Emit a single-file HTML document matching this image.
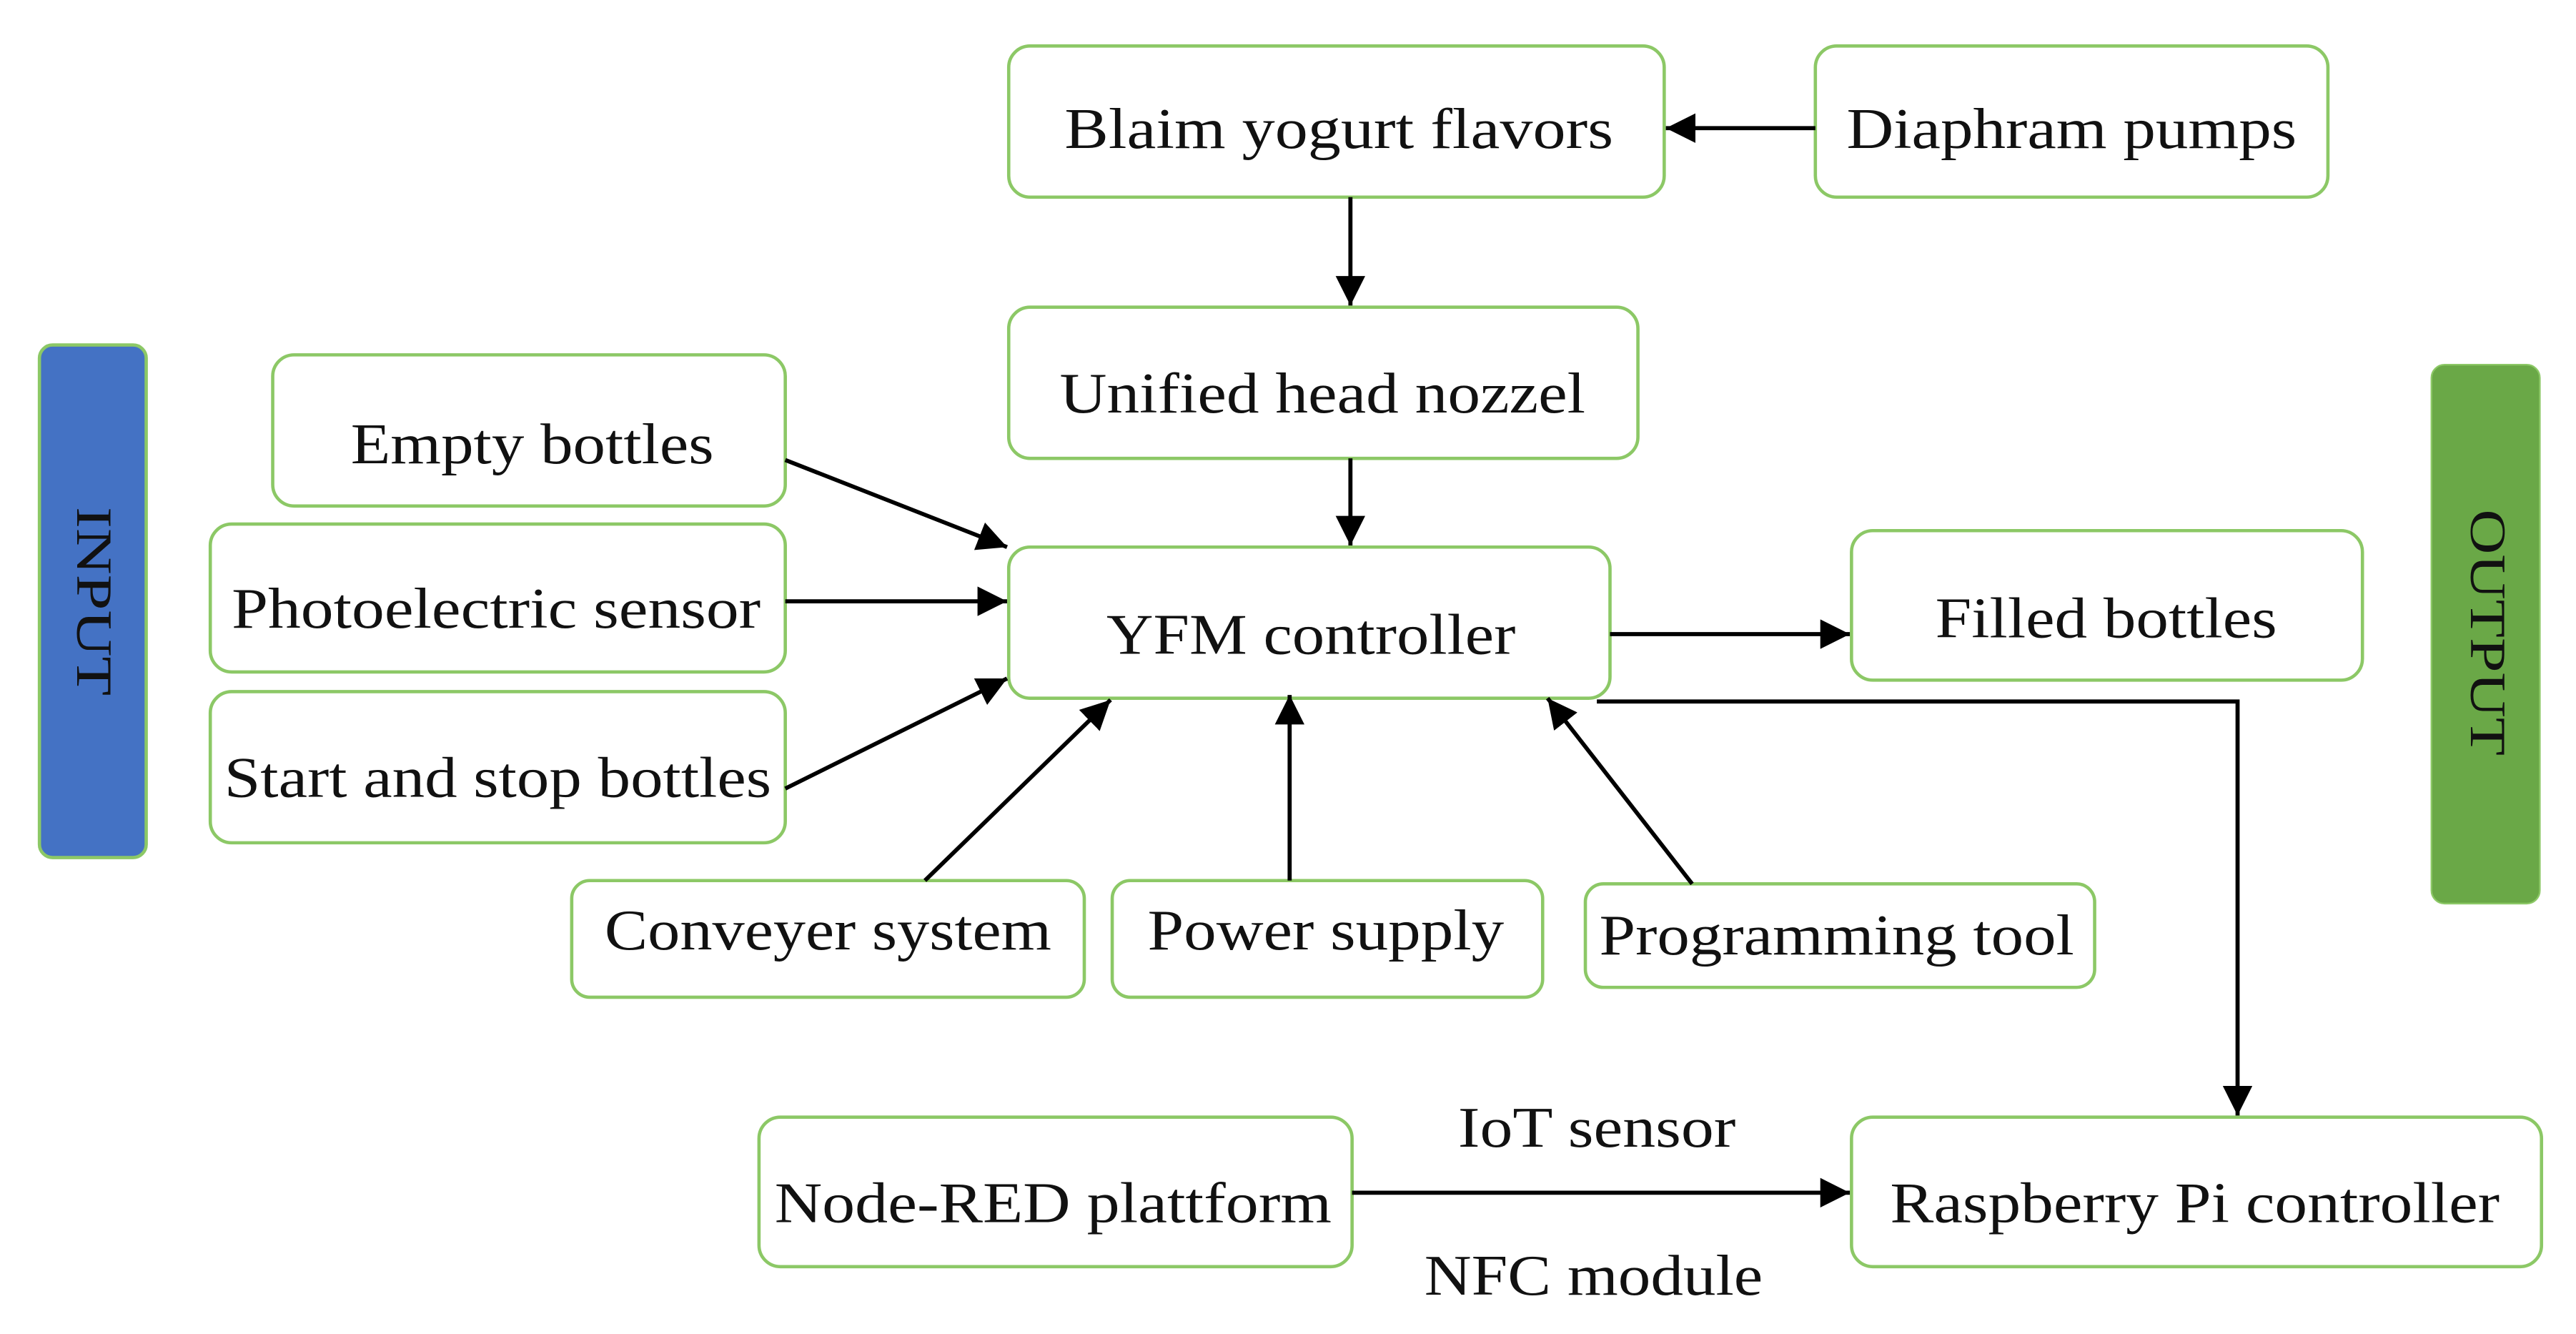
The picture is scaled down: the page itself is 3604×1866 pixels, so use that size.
<!DOCTYPE html>
<html><head><meta charset="utf-8"><style>
html,body{margin:0;padding:0;background:#fff;}
svg{display:block;}
text{font-family:"Liberation Serif",serif;font-size:35px;fill:#111;}
</style></head><body>
<svg width="3604" height="1866" viewBox="0 0 1568 812" preserveAspectRatio="none" xmlns="http://www.w3.org/2000/svg">
<defs>
<marker id="b" viewBox="0 0 10 10" refX="10" refY="5" markerWidth="18" markerHeight="18" markerUnits="userSpaceOnUse" orient="auto">
<path d="M0,0 L10,5 L0,10 z" fill="#000"/></marker>
</defs>
<g fill="#fff" stroke="#8cc866" stroke-width="2">
<rect x="614" y="28" width="399" height="92" rx="13"/>
<rect x="1105" y="28" width="312" height="92" rx="13"/>
<rect x="614" y="187" width="383" height="92" rx="13"/>
<rect x="166" y="216" width="312" height="92" rx="13"/>
<rect x="128" y="319" width="350" height="90" rx="13"/>
<rect x="128" y="421" width="350" height="92" rx="13"/>
<rect x="614" y="333" width="366" height="92" rx="13"/>
<rect x="1127" y="323" width="311" height="91" rx="13"/>
<rect x="348" y="536" width="312" height="71" rx="11"/>
<rect x="677" y="536" width="262" height="71" rx="11"/>
<rect x="965" y="538" width="310" height="63" rx="11"/>
<rect x="462" y="680" width="361" height="91" rx="13"/>
<rect x="1127" y="680" width="420" height="91" rx="13"/>
</g>
<rect x="24" y="210" width="65" height="312" rx="8" fill="#4472c4" stroke="#8cc866" stroke-width="2"/>
<rect x="1480" y="222" width="66" height="328" rx="8" fill="#6aa847" stroke="#8cc866" stroke-width="1"/>
<g text-anchor="middle" lengthAdjust="spacingAndGlyphs">
<text x="815" y="90" textLength="334" lengthAdjust="spacingAndGlyphs">Blaim yogurt flavors</text>
<text x="1261" y="90" textLength="274" lengthAdjust="spacingAndGlyphs">Diaphram pumps</text>
<text x="805" y="251" textLength="320" lengthAdjust="spacingAndGlyphs">Unified head nozzel</text>
<text x="324" y="282" textLength="221" lengthAdjust="spacingAndGlyphs">Empty bottles</text>
<text x="302" y="382" textLength="322" lengthAdjust="spacingAndGlyphs">Photoelectric sensor</text>
<text x="303" y="485" textLength="333" lengthAdjust="spacingAndGlyphs">Start and stop bottles</text>
<text x="798" y="398" textLength="249" lengthAdjust="spacingAndGlyphs">YFM controller</text>
<text x="1282" y="388" textLength="208" lengthAdjust="spacingAndGlyphs">Filled bottles</text>
<text x="504" y="578" textLength="272" lengthAdjust="spacingAndGlyphs">Conveyer system</text>
<text x="807" y="578" textLength="217" lengthAdjust="spacingAndGlyphs">Power supply</text>
<text x="1118" y="581" textLength="289" lengthAdjust="spacingAndGlyphs">Programming tool</text>
<text x="641" y="744" textLength="339" lengthAdjust="spacingAndGlyphs">Node-RED plattform</text>
<text x="1336" y="744" textLength="371" lengthAdjust="spacingAndGlyphs">Raspberry Pi controller</text>
<text x="972" y="698" textLength="169" lengthAdjust="spacingAndGlyphs">IoT sensor</text>
<text x="970" y="788" textLength="206" lengthAdjust="spacingAndGlyphs">NFC module</text>
<text transform="translate(47,366) rotate(90)" textLength="115" lengthAdjust="spacingAndGlyphs" style="font-size:31px">INPUT</text>
<text transform="translate(1504,385) rotate(90)" textLength="150" lengthAdjust="spacingAndGlyphs" style="font-size:31px">OUTPUT</text>
</g>
<g stroke="#000" stroke-width="2.5" fill="none">
<line x1="1105" y1="78" x2="1014" y2="78" marker-end="url(#b)"/>
<line x1="822" y1="120" x2="822" y2="186" marker-end="url(#b)"/>
<line x1="822" y1="279" x2="822" y2="332" marker-end="url(#b)"/>
<line x1="478" y1="280" x2="613" y2="333" marker-end="url(#b)"/>
<line x1="478" y1="366" x2="613" y2="366" marker-end="url(#b)"/>
<line x1="478" y1="480" x2="613" y2="413" marker-end="url(#b)"/>
<line x1="563" y1="536" x2="676" y2="426" marker-end="url(#b)"/>
<line x1="785" y1="536" x2="785" y2="423" marker-end="url(#b)"/>
<line x1="1030" y1="538" x2="942" y2="425" marker-end="url(#b)"/>
<line x1="980" y1="386" x2="1126" y2="386" marker-end="url(#b)"/>
<polyline points="972,427 1362,427 1362,679" marker-end="url(#b)"/>
<line x1="823" y1="726" x2="1126" y2="726" marker-end="url(#b)"/>
</g>
</svg>
</body></html>
